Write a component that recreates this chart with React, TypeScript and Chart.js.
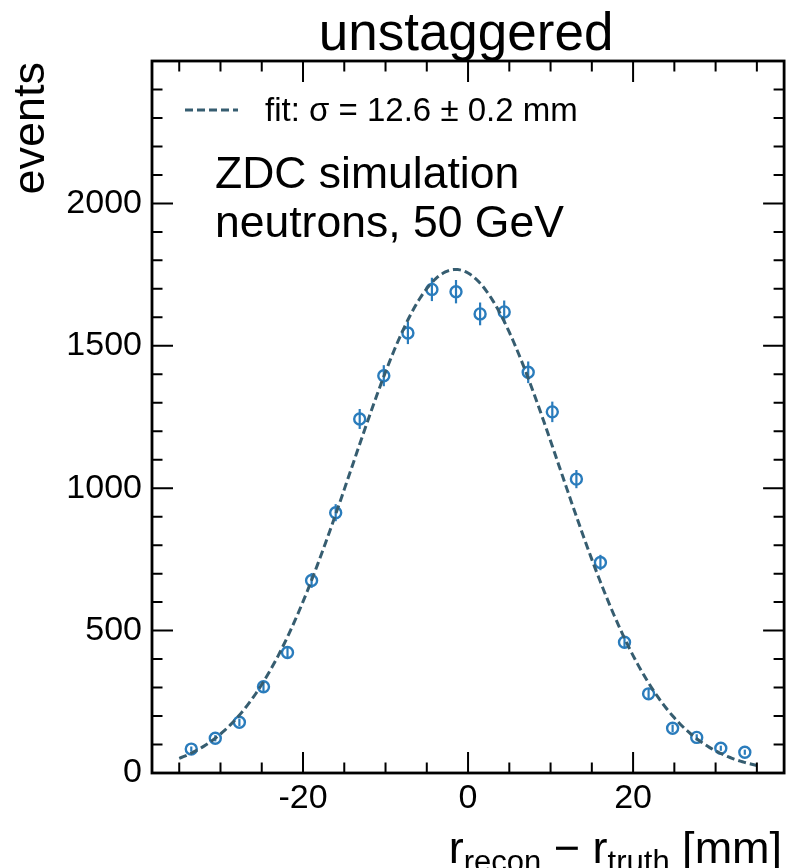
import React, { useEffect, useRef } from "react";
import { Chart, registerables } from "chart.js";

Chart.register(...registerables);

// ---- data ----
const BIN_CENTERS = [
  -33.54, -30.63, -27.71, -24.79, -21.88, -18.96, -16.04, -13.13, -10.21, -7.29, -4.38, -1.46,
  1.46, 4.38, 7.29, 10.21, 13.13, 16.04, 18.96, 21.88, 24.79, 27.71, 30.63, 33.54,
];
const EVENTS = [
  84, 122, 178, 303, 423, 676, 914, 1243, 1395, 1545, 1698, 1690,
  1612, 1619, 1407, 1268, 1032, 739, 459, 278, 157, 125, 87, 73,
];
const ERRORS = [
  9, 11, 13, 17, 21, 26, 30, 35, 37, 39, 41, 41,
  40, 40, 38, 36, 32, 27, 21, 17, 13, 11, 9, 9,
];
// Gaussian fit parameters
const FIT_AMPLITUDE = 1768;
const FIT_MEAN = -1.5;
const FIT_SIGMA = 12.6;
const FIT_RANGE = [-35, 35];

const X_TICKS = [-20, 0, 20];
const X_MINOR = [-35, -30, -25, -15, -10, -5, 5, 10, 15, 25, 30, 35];
const Y_TICKS = [0, 500, 1000, 1500, 2000];
const Y_MINOR = [100, 200, 300, 400, 600, 700, 800, 900, 1100, 1200, 1300, 1400, 1600, 1700, 1800, 1900, 2100, 2200, 2300, 2400];

const TITLE = "unstaggered";
const Y_LABEL = "events";
const LEGEND_LABEL = "fit: σ = 12.6 ± 0.2 mm";
const NOTE_LINES = ["ZDC simulation", "neutrons, 50 GeV"];

const FONT = '"Liberation Sans", Arial, Helvetica, sans-serif';
const MARK_COLOR = "#2a7cbc";
const FIT_COLOR = "#365d70";

function fitCurve() {
  const pts: { x: number; y: number }[] = [];
  const n = 280;
  for (let i = 0; i <= n; i++) {
    const x = FIT_RANGE[0] + ((FIT_RANGE[1] - FIT_RANGE[0]) * i) / n;
    const y = FIT_AMPLITUDE * Math.exp(-((x - FIT_MEAN) ** 2) / (2 * FIT_SIGMA * FIT_SIGMA));
    pts.push({ x, y });
  }
  return pts;
}

const decor = {
  id: "decor",
  beforeDatasetsDraw(chart: any) {
    const ctx = chart.ctx;
    const xs = chart.scales.x;
    const ys = chart.scales.y;
    ctx.save();
    ctx.strokeStyle = MARK_COLOR;
    ctx.lineWidth = 2.2;
    BIN_CENTERS.forEach((c, i) => {
      const px = xs.getPixelForValue(c);
      ctx.beginPath();
      ctx.moveTo(px, ys.getPixelForValue(EVENTS[i] - ERRORS[i]));
      ctx.lineTo(px, ys.getPixelForValue(EVENTS[i] + ERRORS[i]));
      ctx.stroke();
    });
    ctx.restore();
  },
  afterDraw(chart: any) {
    const ctx = chart.ctx;
    const { left, right, top, bottom } = chart.chartArea;
    const xs = chart.scales.x;
    const ys = chart.scales.y;
    ctx.save();
    // ticks (inward, all four sides)
    ctx.strokeStyle = "#000";
    ctx.lineWidth = 2;
    const MAJ = 21;
    const MIN = 10.5;
    const xTick = (v: number, len: number) => {
      const p = xs.getPixelForValue(v);
      ctx.beginPath();
      ctx.moveTo(p, bottom);
      ctx.lineTo(p, bottom - len);
      ctx.moveTo(p, top);
      ctx.lineTo(p, top + len);
      ctx.stroke();
    };
    const yTick = (v: number, len: number) => {
      const p = ys.getPixelForValue(v);
      ctx.beginPath();
      ctx.moveTo(left, p);
      ctx.lineTo(left + len, p);
      ctx.moveTo(right, p);
      ctx.lineTo(right - len, p);
      ctx.stroke();
    };
    X_TICKS.forEach((v) => xTick(v, MAJ));
    X_MINOR.forEach((v) => xTick(v, MIN));
    Y_TICKS.forEach((v) => yTick(v, MAJ));
    Y_MINOR.forEach((v) => yTick(v, MIN));
    // frame
    ctx.lineWidth = 2.8;
    ctx.strokeRect(left, top, right - left, bottom - top);

    ctx.fillStyle = "#000";
    // title
    ctx.font = `53px ${FONT}`;
    ctx.textAlign = "center";
    ctx.textBaseline = "alphabetic";
    ctx.fillText(TITLE, (left + right) / 2 - 2, 50);

    // y label
    ctx.save();
    ctx.font = `45px ${FONT}`;
    ctx.translate(44, top + 1);
    ctx.rotate(-Math.PI / 2);
    ctx.textAlign = "right";
    ctx.fillText(Y_LABEL, 0, 0);
    ctx.restore();

    // x label: r_recon − r_truth [mm], right aligned
    const mainF = `45px ${FONT}`;
    const subF = `31px ${FONT}`;
    const parts: [string, string, number][] = [
      ["r", mainF, 0],
      ["recon", subF, 9],
      [" − ", mainF, 0],
      ["r", mainF, 0],
      ["truth", subF, 9],
      [" [mm]", mainF, 0],
    ];
    let total = 0;
    parts.forEach(([t, f]) => {
      ctx.font = f;
      total += ctx.measureText(t).width;
    });
    let cx = right - 2 - total;
    ctx.textAlign = "left";
    parts.forEach(([t, f, dy]) => {
      ctx.font = f;
      ctx.fillText(t, cx, 863 + dy);
      cx += ctx.measureText(t).width;
    });

    // legend
    ctx.strokeStyle = FIT_COLOR;
    ctx.lineWidth = 3;
    ctx.setLineDash([8, 4]);
    ctx.beginPath();
    ctx.moveTo(185, 110);
    ctx.lineTo(238, 110);
    ctx.stroke();
    ctx.setLineDash([]);
    ctx.font = `33px ${FONT}`;
    ctx.fillText(LEGEND_LABEL, 265, 121);

    // annotation
    ctx.font = `44.5px ${FONT}`;
    ctx.fillText(NOTE_LINES[0], 215, 188);
    ctx.fillText(NOTE_LINES[1], 215, 237);
    ctx.restore();
  },
};

export default function App() {
  const ref = useRef<HTMLCanvasElement>(null);
  useEffect(() => {
    if (!ref.current) return;
    const chart = new Chart(ref.current, {
      type: "scatter",
      data: {
        datasets: [
          {
            type: "line",
            label: "fit",
            data: fitCurve(),
            borderColor: FIT_COLOR,
            borderWidth: 3,
            borderDash: [8, 4],
            pointRadius: 0,
            fill: false,
            tension: 0,
          } as any,
          {
            label: "data",
            data: BIN_CENTERS.map((x, i) => ({ x, y: EVENTS[i] })),
            pointStyle: "circle",
            pointRadius: 5.5,
            pointBorderWidth: 2.4,
            pointBorderColor: MARK_COLOR,
            pointBackgroundColor: "rgba(0,0,0,0)",
            borderColor: MARK_COLOR,
            backgroundColor: "rgba(0,0,0,0)",
            showLine: false,
          } as any,
        ],
      },
      options: {
        responsive: false,
        animation: false,
        devicePixelRatio: 1,
        layout: { padding: { top: 61, right: 3, left: 0, bottom: 0 } },
        plugins: { legend: { display: false }, tooltip: { enabled: false } },
        scales: {
          x: {
            type: "linear",
            min: -38.3,
            max: 38.3,
            afterFit: (s: any) => {
              s.height = 95;
            },
            afterBuildTicks: (s: any) => {
              s.ticks = X_TICKS.map((value) => ({ value }));
            },
            grid: { display: false, drawTicks: false },
            border: { display: false },
            ticks: {
              padding: 5,
              color: "#000",
              font: { family: FONT, size: 34 },
              maxRotation: 0,
              autoSkip: false,
              callback: (v: any) => String(v),
            },
          },
          y: {
            type: "linear",
            min: 0,
            max: 2500,
            afterFit: (s: any) => {
              s.width = 152;
            },
            afterBuildTicks: (s: any) => {
              s.ticks = Y_TICKS.map((value) => ({ value }));
            },
            grid: { display: false, drawTicks: false },
            border: { display: false },
            ticks: {
              padding: 10,
              color: "#000",
              font: { family: FONT, size: 34 },
              autoSkip: false,
              callback: (v: any) => String(v),
            },
          },
        },
      },
      plugins: [decor],
    });
    return () => chart.destroy();
  }, []);
  return (
    <div style={{ position: "absolute", left: 0, top: 0, width: 792, height: 868, background: "#fff" }}>
      <canvas ref={ref} width={792} height={868} style={{ width: 792, height: 868, display: "block" }} />
    </div>
  );
}
